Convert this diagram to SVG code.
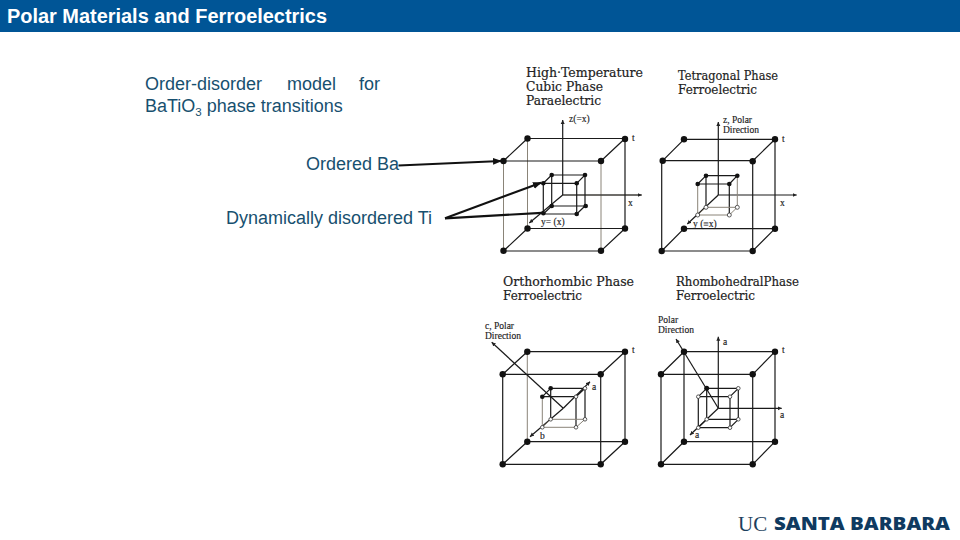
<svg xmlns="http://www.w3.org/2000/svg" width="960" height="540" viewBox="0 0 960 540">
<style>
.t{font-family:"Liberation Sans",Arial,sans-serif;font-size:18px;fill:#17506f}
.h{font-family:"DejaVu Serif",serif;font-size:12.500px;fill:#222;stroke:#222;stroke-width:.2}
.s{font-family:"Liberation Serif","Times New Roman",serif;font-size:9.500px;fill:#222;stroke:#222;stroke-width:.15}
.k{fill:none;stroke:#1a1a1a;stroke-width:1.2}
.g{fill:none;stroke:#8a8478;stroke-width:1}
.a{fill:none;stroke:#111;stroke-width:2.200}
.d{fill:#111}
.o{fill:#fff;stroke:#333;stroke-width:.8}
</style>
<defs>
<marker id="ah" markerUnits="userSpaceOnUse" markerWidth="10" markerHeight="8" refX="8" refY="4" orient="auto"><path d="M0 .5L9 4L0 7.500z" fill="#111"/></marker>
<marker id="sh" markerUnits="userSpaceOnUse" markerWidth="5" markerHeight="5" refX="4" refY="2.500" orient="auto"><path d="M0 .5L4 2.500L0 4.500z" fill="#222"/></marker>
</defs>
<rect width="960" height="540" fill="#fff"/>
<g id="title"><rect width="960" height="32" fill="#005596"/>
<text x="7" y="22.500" font-family="Liberation Sans,Arial,sans-serif" font-size="20" font-weight="700" fill="#fff" textLength="320" lengthAdjust="spacingAndGlyphs">Polar Materials and Ferroelectrics</text></g>
<g id="heading"><text class="t" y="90"><tspan x="145">Order-disorder</tspan><tspan x="287">model</tspan><tspan x="359">for</tspan></text>
<text class="t" x="145" y="112">BaTiO<tspan font-size="11.500" dy="4">3</tspan><tspan dy="-4"> phase transitions</tspan></text></g>
<g id="label-ba"><text class="t" x="306" y="170">Ordered Ba</text></g>
<g id="label-ti"><text class="t" x="226" y="224">Dynamically disordered Ti</text></g>

<g id="cubic">
<text class="h" x="526" y="77" textLength="117" lengthAdjust="spacingAndGlyphs">High·Temperature</text><text class="h" x="526" y="91" textLength="77" lengthAdjust="spacingAndGlyphs">Cubic Phase</text><text class="h" x="526" y="105" textLength="75" lengthAdjust="spacingAndGlyphs">Paraelectric</text>
<text class="s" x="569" y="122">z(=x)</text><text class="s" x="628" y="206">x</text><text class="s" x="541" y="225">y= (x)</text><text class="s" x="632" y="141">t</text>
<path class="g" d="M527.500 138.500V228.500M503.500 161V251M601 161V251M562.700 195H641.700"/>
<path class="k" d="M527.500 138.500H625V228.500H527.500M503.500 161H601M527.500 138.500L503.500 161M625 138.500L601 161M625 228.500L601 251H503.500L527.500 228.500"/>
<path class="k" d="M562.700 195V120" marker-end="url(#sh)"/><path class="k" d="M562.700 195L529.300 223" marker-end="url(#sh)"/><path class="k" d="M562.700 195H641.700" marker-end="url(#sh)"/>
<path class="k" d="M551.700 175H585V206H551.700zM543.300 183.300H576.700V214H543.300zM551.700 175L543.300 183.300M585 175L576.700 183.300M585 206L576.700 214M551.700 206L543.300 214"/>
<g class="d"><circle cx="527.500" cy="138.500" r="3.200"/><circle cx="625" cy="139" r="3.200"/><circle cx="503.500" cy="161" r="3.200"/><circle cx="601" cy="161" r="3.200"/><circle cx="527.500" cy="228.500" r="3.200"/><circle cx="625" cy="228.500" r="3.200"/><circle cx="503.500" cy="250.700" r="3.200"/><circle cx="601" cy="250.700" r="3.200"/>
<circle cx="551.700" cy="175" r="2.300"/><circle cx="585" cy="175" r="2.300"/><circle cx="543.300" cy="183.300" r="2.300"/><circle cx="576.700" cy="183.300" r="2.300"/><circle cx="551.700" cy="206" r="2.300"/><circle cx="585.700" cy="206" r="2.300"/><circle cx="543.300" cy="213.300" r="2.300"/><circle cx="576.700" cy="214" r="2.300"/></g>
</g>

<g id="tetragonal">
<text class="h" x="678" y="80" textLength="100" lengthAdjust="spacingAndGlyphs">Tetragonal Phase</text><text class="h" x="678" y="94" textLength="79" lengthAdjust="spacingAndGlyphs">Ferroelectric</text>
<text class="s"><tspan x="723" y="123">z, Polar</tspan><tspan x="723" y="133">Direction</tspan></text><text class="s" x="780" y="206">x</text><text class="s" x="693" y="227">y (≡x)</text><text class="s" x="782" y="142">t</text>
<path class="k" d="M684 139.300H775V228.700M662.700 160.700H752.700V251M684 139.300L662.700 160.700M775 139.300L752.700 161M775 228.700L752.700 251H661.700V160.700M661.700 251L684 228.700H775"/>
<path class="k" d="M718.300 195V122" marker-end="url(#sh)"/><path class="k" d="M718.300 195L687.300 224" marker-end="url(#sh)"/><path class="k" d="M718.300 195H796.700" marker-end="url(#sh)"/>
<path class="k" d="M706 175.700H737.300M697.700 184H729.300V215M697.700 184L706 175.700M729.300 184L737.300 175.700M706 175.700V207.300"/>
<path class="g" d="M737.300 175.700V207.300M697.700 184V215H729.300M697.700 215L706 207.300H737.300L729.300 215"/>
<g class="d"><circle cx="684" cy="139.300" r="3.200"/><circle cx="775" cy="139.300" r="3.200"/><circle cx="662.700" cy="160.700" r="3.200"/><circle cx="752.700" cy="161.300" r="3.200"/><circle cx="684" cy="228.700" r="3.200"/><circle cx="775" cy="228.700" r="3.200"/><circle cx="661.700" cy="251" r="3.200"/><circle cx="752.700" cy="251" r="3.200"/>
<circle cx="706" cy="175.700" r="2.300"/><circle cx="737.300" cy="175.700" r="2.300"/><circle cx="697.700" cy="184" r="2.300"/><circle cx="729.300" cy="184" r="2.300"/></g>
<g class="o"><circle cx="706" cy="207.300" r="2"/><circle cx="737.300" cy="207.300" r="2"/><circle cx="697.700" cy="215" r="2"/><circle cx="729.300" cy="215" r="2"/></g>
</g>

<g id="orthorhombic">
<text class="h" x="503" y="286" textLength="131" lengthAdjust="spacingAndGlyphs">Orthorhombic Phase</text><text class="h" x="503" y="300" textLength="79" lengthAdjust="spacingAndGlyphs">Ferroelectric</text>
<text class="s"><tspan x="485" y="329">c, Polar</tspan><tspan x="485" y="339">Direction</tspan></text><text class="s" x="592" y="390">a</text><text class="s" x="540" y="439">b</text><text class="s" x="632" y="353">t</text>
<path class="g" d="M527.300 351.700V441.700"/>
<path class="k" d="M527.300 351.700H625V441.700H527.300M502.700 374.300H600.700V464.300M502.700 374.300V464.300H600.700L625 441.700M527.300 351.700L502.700 374.300M625 351.700L600.700 374.300M502.700 464.300L527.300 441.700"/>
<path class="k" d="M563.300 408.300L491.700 342.300" marker-end="url(#sh)"/><path class="k" d="M563.300 408.300L530 436.700" marker-end="url(#sh)"/><path class="k" d="M563.300 408.300L590 381.700" marker-end="url(#sh)"/>
<path class="k" d="M550.700 388.300H585V419.300M542.300 396.700H576V427.300M550.700 388.300L542.300 396.700M585 388.300L576 396.700M550.700 388.300V419.300"/>
<path class="g" d="M542.300 396.700V427.300H576L585 419.300H550.700L542.300 427.300"/>
<g class="d"><circle cx="527.300" cy="351.700" r="3.200"/><circle cx="625" cy="351.700" r="3.200"/><circle cx="502.700" cy="374.300" r="3.200"/><circle cx="600.700" cy="374.300" r="3.200"/><circle cx="527.300" cy="441.700" r="3.200"/><circle cx="625" cy="441.700" r="3.200"/><circle cx="502.700" cy="464.300" r="3.200"/><circle cx="600.700" cy="464.300" r="3.200"/>
<circle cx="550.700" cy="388.300" r="2.300"/><circle cx="542.300" cy="396.700" r="2.300"/></g>
<g class="o"><circle cx="585" cy="388.300" r="1.800"/><circle cx="576" cy="396.700" r="1.800"/><circle cx="550.700" cy="419.300" r="1.800"/><circle cx="585" cy="419.300" r="1.800"/><circle cx="542.300" cy="427.300" r="1.800"/><circle cx="576" cy="427.300" r="1.800"/></g>
</g>

<g id="rhombohedral">
<text class="h" x="676" y="286" textLength="123" lengthAdjust="spacingAndGlyphs">RhombohedralPhase</text><text class="h" x="676" y="300" textLength="79" lengthAdjust="spacingAndGlyphs">Ferroelectric</text>
<text class="s"><tspan x="658" y="323">Polar</tspan><tspan x="658" y="333">Direction</tspan></text><text class="s" x="723" y="345">a</text><text class="s" x="780" y="418">a</text><text class="s" x="695" y="438">a</text><text class="s" x="782" y="353">t</text>
<path class="k" d="M684 351.700H775V441.700H684V351.700M661 374.300V464.300H752.700V374.300M661 374.300H752.700M684 351.700L661 374.300M775 351.700L752.700 374.300M775 441.700L752.700 464.300M661 464.300L684 441.700"/>
<path class="k" d="M718.300 408.300V336.700" marker-end="url(#sh)"/><path class="k" d="M718.300 408.300H781.700" marker-end="url(#sh)"/><path class="k" d="M718.300 408.300L690 435" marker-end="url(#sh)"/><path class="k" d="M718.300 408.300L676 339" marker-end="url(#sh)"/>
<path class="k" d="M706.700 388.300H738.300V419.300H706.700zM698.300 396.700H730V427.700H698.300zM706.700 388.300L698.300 396.700M738.300 388.300L730 396.700M738.300 419.300L730 427.700M706.700 419.300L698.300 427.700"/>
<g class="d"><circle cx="684" cy="351.700" r="3.200"/><circle cx="775" cy="351.700" r="3.200"/><circle cx="661" cy="374.300" r="3.200"/><circle cx="752.700" cy="374.300" r="3.200"/><circle cx="684" cy="441.700" r="3.200"/><circle cx="775" cy="441.700" r="3.200"/><circle cx="661" cy="464.300" r="3.200"/><circle cx="752.700" cy="464.300" r="3.200"/><circle cx="706.700" cy="388.300" r="2.500"/></g>
<g class="o"><circle cx="738.300" cy="388.300" r="1.800"/><circle cx="698.300" cy="396.700" r="1.800"/><circle cx="730" cy="396.700" r="1.800"/><circle cx="706.700" cy="419.300" r="1.800"/><circle cx="738.300" cy="419.300" r="1.800"/><circle cx="698.300" cy="427.700" r="1.800"/><circle cx="730" cy="427.700" r="1.800"/></g>
</g>

<g id="connectors">
<path class="a" d="M398.500 165.500L501 161" marker-end="url(#ah)"/>
<path class="a" d="M445 218.300L541 182.700" marker-end="url(#ah)"/>
<path class="a" d="M445 218.300L542 212.800"/>
</g>

<g id="logo"><text x="738" y="530.500" font-family="Liberation Serif,serif" font-size="21" fill="#1d3f5e">UC</text>
<text x="774" y="530" font-family="Open Sans,Liberation Sans,sans-serif" font-size="17.500" font-weight="800" fill="#0f3a60" textLength="176" lengthAdjust="spacingAndGlyphs">SANTA BARBARA</text></g>
</svg>
